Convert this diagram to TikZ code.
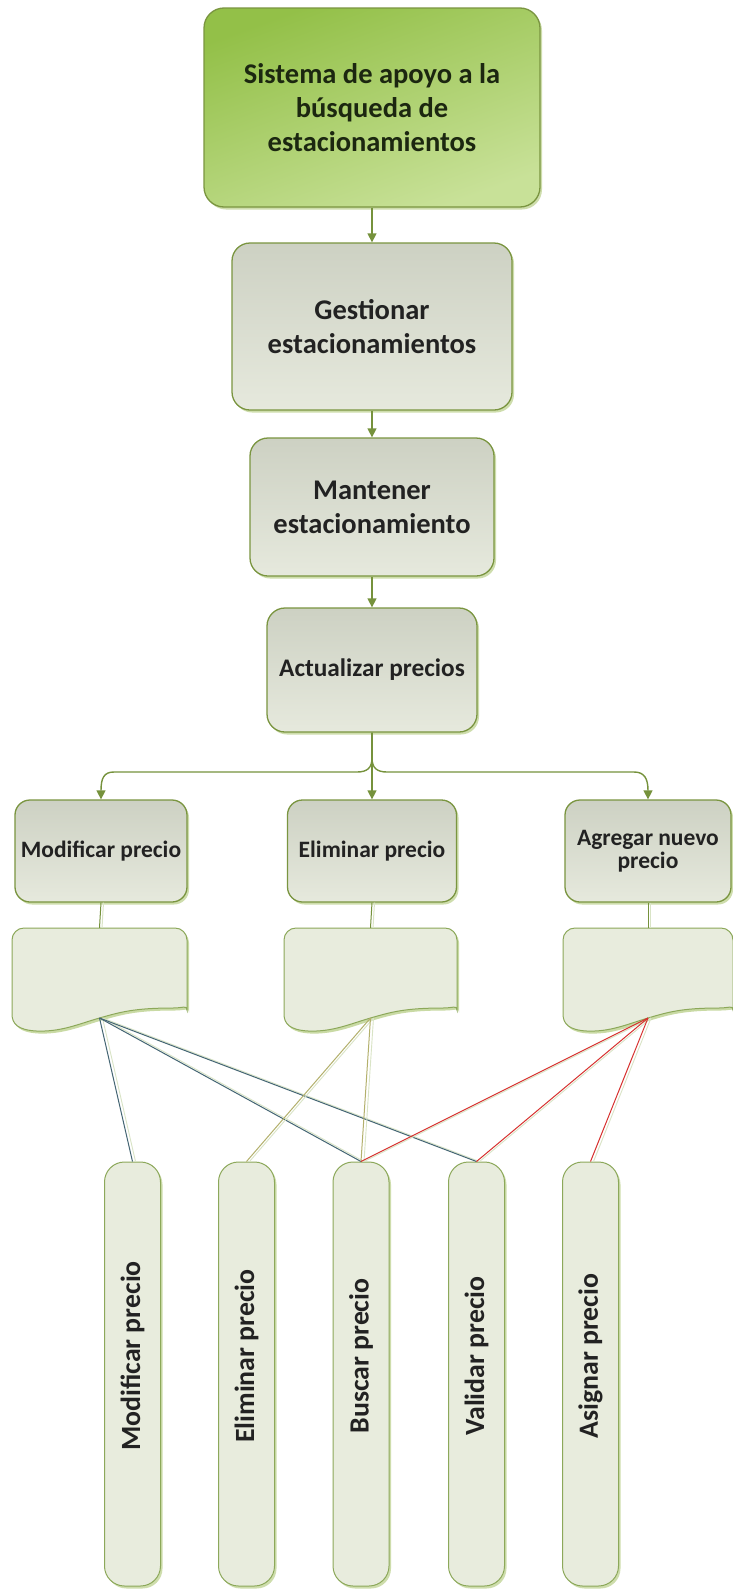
\documentclass[tikz,border=0pt]{standalone}
\usepackage{fontspec}
\setmainfont{Carlito}
\usetikzlibrary{arrows.meta,shadows}

\definecolor{arrowcol}{HTML}{76923C}
\definecolor{boxline}{HTML}{7A9540}
\definecolor{greentop}{HTML}{93C048}
\definecolor{greenbot}{HTML}{C8E198}
\definecolor{graytop}{HTML}{CDD1C3}
\definecolor{graybot}{HTML}{E6E9DD}
\definecolor{palefill}{HTML}{E8ECDD}
\definecolor{paleline}{HTML}{8CA85A}
\definecolor{paleshadow}{HTML}{C9DAA4}
\definecolor{txt}{HTML}{222222}
\definecolor{toptxt}{HTML}{1C2710}
\definecolor{linkblue}{HTML}{446573}
\definecolor{linkkhaki}{HTML}{B3B06C}
\definecolor{linkred}{HTML}{D7312F}
\definecolor{linkpale}{HTML}{D9E4C6}

\tikzset{
  boxshadow/.style={drop shadow={shadow xshift=2pt, shadow yshift=-2.5pt, fill=#1, opacity=0.9}},
  topbox/.style={draw=boxline, line width=1.3pt, rounded corners=20pt,
    top color=greentop, bottom color=greenbot, shading angle=20,
    boxshadow=paleshadow, inner sep=0pt, align=center, text=toptxt,
    font=\fontsize{28.5}{34}\selectfont\bfseries},
  graybox/.style={draw=boxline, line width=1.3pt, rounded corners=18pt,
    top color=graytop, bottom color=graybot,
    boxshadow=paleshadow, inner sep=0pt, align=center, text=txt},
  bigtext/.style={font=\fontsize{28.5}{34}\selectfont\bfseries},
  midtext/.style={font=\fontsize{25.3}{29}\selectfont\bfseries},
  smalltext/.style={font=\fontsize{23.5}{23}\selectfont\bfseries},
  tallbox/.style={draw=paleline, line width=1pt, rounded corners=20pt,
    fill=palefill, boxshadow=paleshadow, inner sep=0pt, minimum width=56pt,
    minimum height=424pt},
  talltext/.style={rotate=90, text=txt, inner sep=0pt,
    font=\fontsize{27.8}{30}\selectfont\bfseries},
  docspot/.style={draw=none, inner sep=0pt, minimum height=90pt},
  docbox/.style={draw=paleline, line width=1pt, fill=palefill},
  docshade/.style={fill=paleshadow},
  arr/.style={draw=arrowcol, line width=1.4pt,
    -{Triangle[width=9pt,length=9pt]}},
  stem/.style={draw=arrowcol, line width=1pt},
  stemshade/.style={draw=linkpale, line width=1pt, transform canvas={xshift=2.5pt}},
  link/.style={draw=#1, line width=1pt},
  linkshade/.style={draw=#1, line width=0.9pt, transform canvas={xshift=3pt}},
}

% wavy document outline, relative to its top-left corner; #1 = width
\newcommand\docoutline[1]{[rounded corners=12pt] (0,84) -- (0,0) -- (#1,0) -- (#1,70) [sharp corners]
  .. controls (#1,77) and ({#1-4},80) .. ({#1-14},80)
  .. controls ({#1*0.70},80) and ({#1*0.62},84) .. ({#1*0.5},90)
  .. controls ({#1*0.38},96) and ({#1*0.28},104) .. ({#1*0.14},103)
  .. controls (6,102) and (0,96) .. (0,86) -- cycle}

\begin{document}
\begin{tikzpicture}[x=1pt,y=-1pt]
\useasboundingbox[fill=white] (0,0) rectangle (733,1590);

% main chain
\node[topbox, minimum width=336pt, minimum height=199pt] (sys) at (372,107.5)
  {Sistema de apoyo a la\\búsqueda de\\estacionamientos};
\node[graybox, bigtext, minimum width=280pt, minimum height=167pt] (gest) at (372,326.5)
  {Gestionar\\estacionamientos};
\node[graybox, bigtext, minimum width=244pt, minimum height=138pt] (mant) at (372,507)
  {Mantener\\estacionamiento};
\node[graybox, midtext, minimum width=210pt, minimum height=124pt] (act) at (372,670)
  {Actualizar precios};

% second level
\node[graybox, smalltext, minimum width=172pt, minimum height=102pt, rounded corners=15pt] (modA) at (101,851)
  {Modificar precio};
\node[graybox, smalltext, minimum width=169pt, minimum height=102pt, rounded corners=15pt] (elimA) at (372,851)
  {Eliminar precio};
\node[graybox, smalltext, minimum width=166pt, minimum height=102pt, rounded corners=15pt] (agrA) at (648,851)
  {Agregar nuevo\\precio};

\draw[arr] (sys.south) -- (gest.north);
\draw[arr] (gest.south) -- (mant.north);
\draw[arr] (mant.south) -- (act.north);

% branching connector
\draw[arr] (act.south) -- (elimA.north);
\draw[arr] (act.south) -- (372,758) .. controls (372,768) and (367,772) .. (357,772)
  -- (114,772) .. controls (104,772) and (101,778) .. (modA.north);
\draw[arr] (act.south) -- (372,758) .. controls (372,768) and (377,772) .. (387,772)
  -- (634,772) .. controls (644,772) and (648,778) .. (agrA.north);

% documents
\begin{scope}[shift={(12,928)}]
  \fill[docshade, xshift=2pt, yshift=-2.5pt] \docoutline{175};
  \draw[docbox] \docoutline{175};
\end{scope}
\begin{scope}[shift={(284,928)}]
  \fill[docshade, xshift=2pt, yshift=-2.5pt] \docoutline{173};
  \draw[docbox] \docoutline{173};
\end{scope}
\begin{scope}[shift={(563,928)}]
  \fill[docshade, xshift=2pt, yshift=-2.5pt] \docoutline{170};
  \draw[docbox] \docoutline{170};
\end{scope}
\node[docspot, minimum width=175pt] (docA) at (99.5,973) {};
\node[docspot, minimum width=173pt] (docB) at (370.5,973) {};
\node[docspot, minimum width=170pt] (docC) at (648,973) {};
\coordinate (docAtip) at (99.5,1018);
\coordinate (docBtip) at (370.5,1018);
\coordinate (docCtip) at (648,1018);

\draw[stemshade] (modA.south) -- (docA.north);
\draw[stem] (modA.south) -- (docA.north);
\draw[stemshade] (elimA.south) -- (docB.north);
\draw[stem] (elimA.south) -- (docB.north);
\draw[stemshade] (agrA.south) -- (docC.north);
\draw[stem] (agrA.south) -- (docC.north);

% bottom level
\node[tallbox] (tMod) at (132.5,1374) {};
\node[tallbox] (tElim) at (246.5,1374) {};
\node[tallbox] (tBus) at (361,1374) {};
\node[tallbox] (tVal) at (476.5,1374) {};
\node[tallbox] (tAsig) at (590.5,1374) {};
\node[talltext] (lMod) at (132.5,1356) {Modificar precio};
\node[talltext] (lElim) at (246.5,1356) {Eliminar precio};
\node[talltext] (lBus) at (361,1356) {Buscar precio};
\node[talltext] (lVal) at (476.5,1356) {Validar precio};
\node[talltext] (lAsig) at (590.5,1356) {Asignar precio};

% links from documents to operations
\foreach \d/\t/\c/\s in {docAtip/tMod/linkblue/linkpale, docAtip/tBus/linkblue/linkpale,
    docAtip/tVal/linkblue/linkpale, docBtip/tElim/linkkhaki/linkpale,
    docBtip/tBus/linkkhaki/linkpale, docCtip/tBus/linkred/linkpale,
    docCtip/tVal/linkred/linkpale, docCtip/tAsig/linkred/linkpale}{
  \draw[linkshade=\s] (\d) -- (\t.north);
  \draw[link=\c] (\d) -- (\t.north);
}
\end{tikzpicture}
\end{document}
